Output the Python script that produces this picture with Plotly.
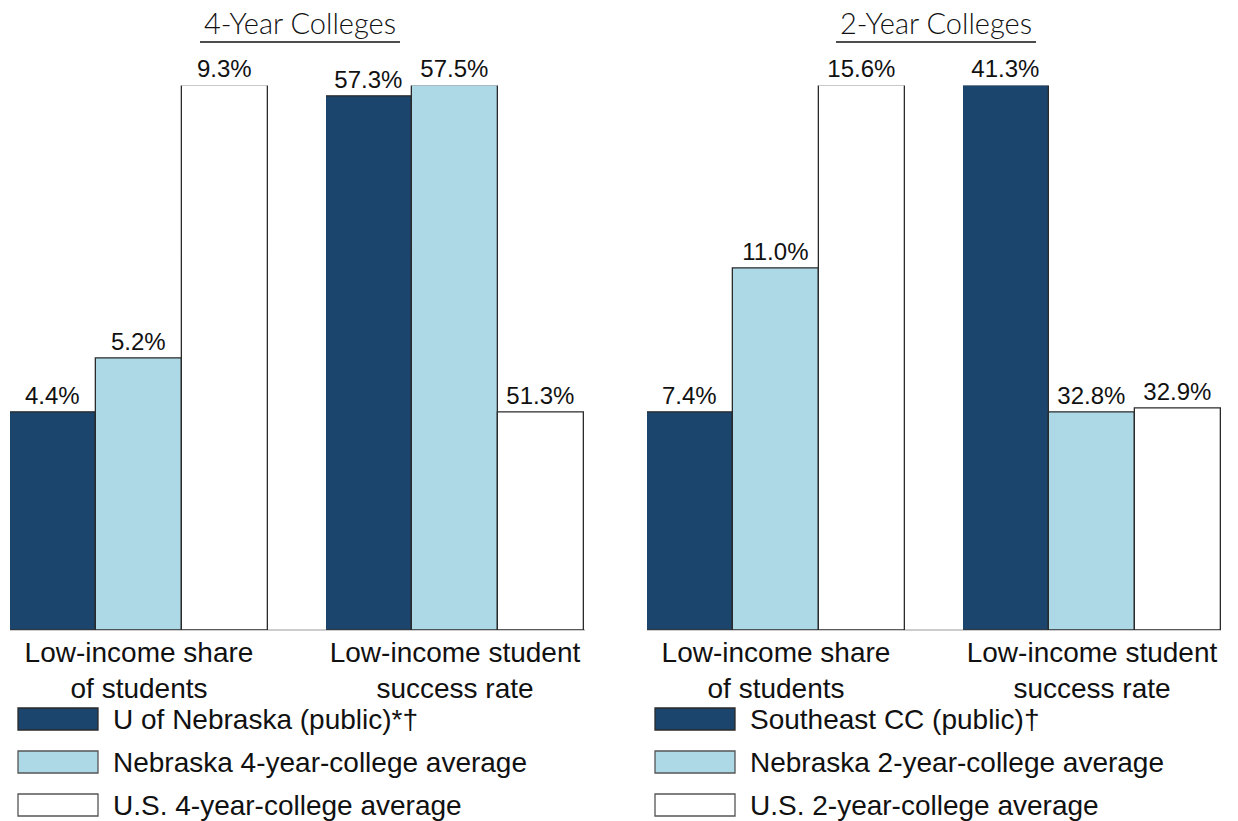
import plotly.graph_objects as go

# ---- data ----
categories = ["Low-income share<br>of students", "Low-income student<br>success rate"]
panel_titles = ["4-Year Colleges", "2-Year Colleges"]

series_4yr = ["U of Nebraska (public)*†", "Nebraska 4-year-college average", "U.S. 4-year-college average"]
share_4yr = [4.4, 5.2, 9.3]
success_4yr = [57.3, 57.5, 51.3]

series_2yr = ["Southeast CC (public)†", "Nebraska 2-year-college average", "U.S. 2-year-college average"]
share_2yr = [7.4, 11.0, 15.6]
success_2yr = [41.3, 32.8, 32.9]

# ---- style ----
W, H = 1238, 821
colors = ["#1c456e", "#add8e6", "#ffffff"]
outline = "#2a2a2a"
FONT = "Liberation Sans, Arial, sans-serif"
TITLE_FONT = "Lato, Open Sans, sans-serif"

def fx(p):
    return p / W

def fy(p):
    return 1 - p / H

base_px, min_px, max_px = 630, 412, 85.5
k = (base_px - min_px) / (min_px - max_px)

group_x_px = [(10, 268), (326, 584), (647, 905), (963, 1221)]
groups = [
    (series_4yr, share_4yr, categories[0]),
    (series_4yr, success_4yr, categories[1]),
    (series_2yr, share_2yr, categories[0]),
    (series_2yr, success_2yr, categories[1]),
]

label_font = dict(family=FONT, size=24, color="#111")

fig = go.Figure()
layout = dict()
for gi, (names, vals, cat) in enumerate(groups):
    hi = max(vals)
    lo = min(vals) - (hi - min(vals)) * k
    top = hi + (hi - lo) * 1e-6
    ax = "" if gi == 0 else str(gi + 1)
    for si, (nm, v) in enumerate(zip(names, vals)):
        fig.add_trace(go.Bar(
            x=[cat], y=[v - lo], base=[lo], name=nm,
            xaxis="x" + ax, yaxis="y" + ax,
            marker=dict(color=colors[si], line=dict(color=outline, width=1.3)),
            text=[f"{v:.1f}%"], textposition="outside", constraintext="none",
            textfont=label_font, outsidetextfont=label_font,
            cliponaxis=False, showlegend=False, offsetgroup=str(si),
        ))
    x0, x1 = group_x_px[gi]
    layout["xaxis" + ax] = dict(
        domain=[fx(x0), fx(x1)], anchor="y" + ax, showgrid=False, zeroline=False,
        showline=False, ticks="", tickfont=dict(family=FONT, size=28, color="#111"),
        fixedrange=True, ticklabelstandoff=3,
    )
    layout["yaxis" + ax] = dict(
        domain=[fy(base_px), fy(max_px)], anchor="x" + ax, range=[lo, top],
        visible=False, fixedrange=True,
    )

shapes = []
annotations = []
# panel baselines
for (a, b) in [(10, 585), (647, 1221)]:
    shapes.append(dict(type="line", xref="paper", yref="paper", x0=fx(a), x1=fx(b),
                       y0=fy(base_px), y1=fy(base_px), line=dict(color="#9a9a9a", width=1),
                       layer="below"))

# panel titles with underline
for (title, cx) in zip(panel_titles, [300, 936]):
    annotations.append(dict(text=title, x=fx(cx), y=fy(22), xref="paper", yref="paper",
                            showarrow=False, xanchor="center", yanchor="middle",
                            font=dict(family=TITLE_FONT, size=29, color="#111", weight=300)))
    shapes.append(dict(type="line", xref="paper", yref="paper", x0=fx(cx - 100), x1=fx(cx + 100),
                       y0=fy(42), y1=fy(42), line=dict(color="#111", width=1.5)))

# legends (manual swatches)
row_y = [719, 762, 805]
for (names, sx) in [(series_4yr, 18), (series_2yr, 655)]:
    for si, nm in enumerate(names):
        yc = row_y[si]
        shapes.append(dict(type="rect", xref="paper", yref="paper",
                           x0=fx(sx), x1=fx(sx + 80), y0=fy(yc + 11), y1=fy(yc - 11),
                           fillcolor=colors[si], line=dict(color=outline if si == 0 else "#555", width=1.3)))
        annotations.append(dict(text=nm, x=fx(sx + 93), y=fy(yc), xref="paper", yref="paper",
                                showarrow=False, xanchor="left", yanchor="middle",
                                font=dict(family=FONT, size=28, color="#111")))

fig.update_layout(
    **layout,
    width=W, height=H, margin=dict(l=0, r=0, t=0, b=0),
    paper_bgcolor="white", plot_bgcolor="white",
    barmode="group", bargap=0, bargroupgap=0,
    shapes=shapes, annotations=annotations, showlegend=False,
)

fig.write_html("out.html", config={"displayModeBar": False},
               post_script="document.body.style.margin='0';")
